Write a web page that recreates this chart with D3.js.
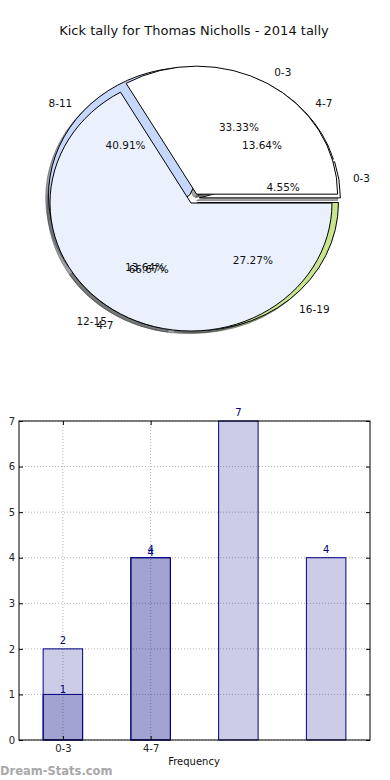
<!DOCTYPE html>
<html><head><meta charset="utf-8">
<script src="https://cdn.jsdelivr.net/npm/d3@7"></script>
<style>body{margin:0;background:#fff} svg{display:block} text{font-family:"DejaVu Sans",sans-serif}</style>
</head><body><svg id="c" width="390" height="780"></svg>
<script>
const titleText = 'Kick tally for Thomas Nicholls - 2014 tally';
const pie1Labels = ['0-3', '4-7', '8-11', '12-15', '16-19'];
const pie1Values = [1, 3, 9, 3, 6];
const pie1Colors = ['#ffffff', '#ffffff', '#c5d7fa', '#ffffff', '#c8e48c'];
const pie2Labels = ['0-3', '4-7'];
const pie2Values = [1, 2];
const pie2Colors = ['#ffffff', '#eaf1fd'];
const barTickLabels = ['0-3', '4-7'];
const barSeriesLight = [2, 4, 7, 4];
const barSeriesDark = [1, 4];
const yTicks = [0, 1, 2, 3, 4, 5, 6, 7];
const xLabel = 'Frequency';
const watermark = 'Dream-Stats.com';

const svg = d3.select('#c');
svg.append('rect').attr('width', 390).attr('height', 780).attr('fill', '#fff');
svg.append('text').attr('x', 194).attr('y', 35).attr('text-anchor', 'middle')
  .attr('font-size', 13).attr('fill', '#111').text(titleText);

// ---------- pies ----------
const cx = 193.8, cy = 198.6, rx = 141, ry = 128, explode = 0.04, shOff = 0.02;
const arc = d3.arc().innerRadius(0).outerRadius(rx);
const layout = v => d3.pie().sort(null).startAngle(Math.PI / 2).endAngle(Math.PI / 2 - 2 * Math.PI)(v);
const pies = [
  {labels: pie1Labels, values: pie1Values, colors: pie1Colors},
  {labels: pie2Labels, values: pie2Values, colors: pie2Colors}
];
pies.forEach(p => { p.arcs = layout(p.values); p.total = d3.sum(p.values); });
const mid = a => (a.startAngle + a.endAngle) / 2;
const offs = (a, k) => { const m = mid(a); return [Math.sin(m) * rx * k, -Math.cos(m) * rx * k]; };
const g = svg.append('g').attr('transform', `translate(${cx},${cy}) scale(1,${ry / rx})`);
function shade(c) { const r = d3.rgb(c); return d3.rgb(r.r * 0.3, r.g * 0.3, r.b * 0.3).toString(); }
pies.forEach(p => {
  g.append('g').selectAll('path').data(p.arcs).enter().append('path')
    .attr('d', arc)
    .attr('transform', d => { const o = offs(d, explode); return `translate(${o[0] - shOff * rx},${o[1] + shOff * rx})`; })
    .attr('fill', (d, i) => shade(p.colors[i])).attr('fill-opacity', 0.5)
    .attr('stroke', (d, i) => shade(p.colors[i])).attr('stroke-opacity', 0.5)
    .attr('stroke-width', 1).attr('vector-effect', 'non-scaling-stroke');
});
pies.forEach(p => {
  g.append('g').selectAll('path').data(p.arcs).enter().append('path')
    .attr('d', arc)
    .attr('transform', d => { const o = offs(d, explode); return `translate(${o[0]},${o[1]})`; })
    .attr('fill', (d, i) => p.colors[i])
    .attr('stroke', '#000').attr('stroke-width', 1).attr('vector-effect', 'non-scaling-stroke');
});
pies.forEach(p => {
  p.arcs.forEach((d, i) => {
    const m = mid(d), s = Math.sin(m), c = Math.cos(m);
    svg.append('text')
      .attr('x', cx + (explode + 1.1) * rx * s).attr('y', cy - (explode + 1.1) * ry * c)
      .attr('dy', '0.36em').attr('text-anchor', s > 0 ? 'start' : 'end')
      .attr('font-size', 10.5).attr('fill', '#111').text(p.labels[i]);
    svg.append('text')
      .attr('x', cx + (explode + 0.6) * rx * s).attr('y', cy - (explode + 0.6) * ry * c)
      .attr('dy', '0.36em').attr('text-anchor', 'middle')
      .attr('font-size', 10.5).attr('fill', '#111')
      .text((d.value / p.total * 100).toFixed(2) + '%');
  });
});

// ---------- bars ----------
const L = 19, R = 370, T = 421, B = 740;
const x = d3.scaleLinear().domain([-0.5, 3.5]).range([L, R]);
const y = d3.scaleLinear().domain([0, 7]).range([B, T]);
const bw = x(0.45) - x(0);
const bg = svg.append('g');
bg.selectAll('.hg').data(yTicks).enter().append('line')
  .attr('x1', L).attr('x2', R).attr('y1', d => y(d)).attr('y2', d => y(d))
  .attr('stroke', '#b5b5b5').attr('stroke-dasharray', '1,2').attr('stroke-width', 1);
bg.selectAll('.vg').data(barTickLabels).enter().append('line')
  .attr('x1', (d, i) => x(i)).attr('x2', (d, i) => x(i)).attr('y1', T).attr('y2', B)
  .attr('stroke', '#b5b5b5').attr('stroke-dasharray', '1,2').attr('stroke-width', 1);
const navy = '#000080';
function bars(data, off) {
  bg.append('g').selectAll('rect').data(data).enter().append('rect')
    .attr('x', (d, i) => x(i) - bw / 2).attr('width', bw)
    .attr('y', d => y(d)).attr('height', d => y(0) - y(d))
    .attr('fill', navy).attr('fill-opacity', 0.2)
    .attr('stroke', navy).attr('stroke-width', 1);
  bg.append('g').selectAll('text').data(data).enter().append('text')
    .attr('x', (d, i) => x(i)).attr('y', d => y(d) - off)
    .attr('text-anchor', 'middle').attr('font-size', 10).attr('fill', navy).text(d => d);
}
bars(barSeriesLight, 5);
bars(barSeriesDark, 1.5);
bg.append('rect').attr('x', L).attr('y', T).attr('width', R - L).attr('height', B - T)
  .attr('fill', 'none').attr('stroke', '#000').attr('stroke-width', 1);
const ax = svg.append('g').attr('font-size', 7);
ax.append('g').attr('transform', `translate(${L},0)`)
  .call(d3.axisLeft(y).tickValues(yTicks).tickSizeInner(-4).tickSizeOuter(0).tickPadding(4).tickFormat(d3.format('d')));
ax.append('g').attr('transform', `translate(${R},0)`)
  .call(d3.axisRight(y).tickValues(yTicks).tickSizeInner(-4).tickSizeOuter(0).tickFormat(''));
ax.append('g').attr('transform', `translate(0,${B})`)
  .call(d3.axisBottom(x).tickValues([0, 1]).tickSizeInner(-4).tickSizeOuter(0).tickPadding(5).tickFormat(i => barTickLabels[i]));
ax.append('g').attr('transform', `translate(0,${T})`)
  .call(d3.axisTop(x).tickValues([0, 1]).tickSizeInner(-4).tickSizeOuter(0).tickFormat(''));
ax.selectAll('.domain').remove();
ax.selectAll('text').attr('font-family', '"DejaVu Sans",sans-serif').attr('fill', '#222');
ax.selectAll('line').attr('stroke', '#000');

svg.append('text').attr('x', 194).attr('y', 765).attr('text-anchor', 'middle')
  .attr('font-size', 10).attr('fill', '#111').text(xLabel);
svg.append('text').attr('x', 0).attr('y', 775).attr('font-size', 11.5)
  .attr('font-weight', 'bold').attr('fill', '#a8a8a8').text(watermark);
</script></body></html>
